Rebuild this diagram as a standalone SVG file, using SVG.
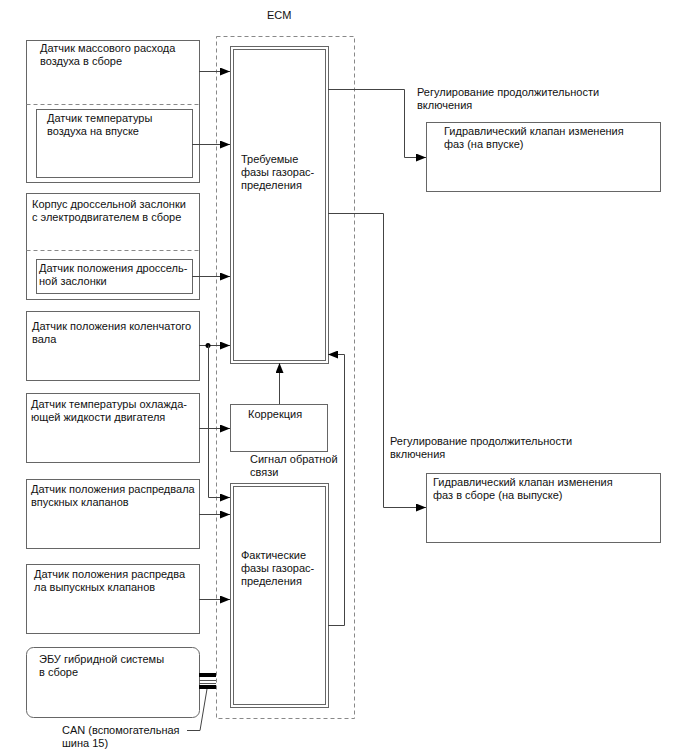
<svg xmlns="http://www.w3.org/2000/svg" width="688" height="755" viewBox="0 0 688 755">
<style>
.b{fill:#fff;stroke:#666;stroke-width:1}
.dsh{fill:none;stroke:#888;stroke-width:1;stroke-dasharray:4,3}
.l{fill:none;stroke:#444;stroke-width:1}
text{font-family:"Liberation Sans",Arial,sans-serif;font-size:11px;fill:#111}
</style>
<defs>
<marker id="ar" viewBox="0 0 10 8" refX="10" refY="4" markerWidth="10" markerHeight="8" markerUnits="userSpaceOnUse" orient="auto">
<path d="M0,0 L10,4 L0,8 Z" fill="#000"/>
</marker>
</defs>
<rect width="688" height="755" fill="#fff"/>

<g id="ecm">
<rect class="dsh" x="216.5" y="36.5" width="138" height="682"/>
<text x="267" y="19">ECM</text>
</g>

<g id="maf">
<rect class="b" x="26.5" y="40.5" width="173" height="142"/>
<line class="dsh" x1="26.5" y1="104.5" x2="199.5" y2="104.5"/>
<text x="40" y="52">Датчик массового расхода</text>
<text x="40" y="65">воздуха в сборе</text>
</g>
<g id="iat">
<rect class="b" x="36.5" y="109.5" width="156" height="68"/>
<text x="47" y="122">Датчик температуры</text>
<text x="47" y="135">воздуха на впуске</text>
</g>

<g id="throttle">
<rect class="b" x="26.5" y="193.5" width="173" height="106"/>
<line class="dsh" x1="26.5" y1="250.5" x2="199.5" y2="250.5"/>
<text x="32" y="208">Корпус дроссельной заслонки</text>
<text x="32" y="221">с электродвигателем в сборе</text>
</g>
<g id="tps">
<rect class="b" x="36.5" y="259.5" width="156" height="34"/>
<text x="39" y="272">Датчик положения дроссель-</text>
<text x="39" y="285">ной заслонки</text>
</g>

<g id="ckp">
<rect class="b" x="26.5" y="311.5" width="173" height="69"/>
<text x="32" y="330">Датчик положения коленчатого</text>
<text x="32" y="343">вала</text>
</g>

<g id="ect">
<rect class="b" x="26.5" y="393.5" width="173" height="69"/>
<text x="31" y="408">Датчик температуры охлажда-</text>
<text x="31" y="421">ющей жидкости двигателя</text>
</g>

<g id="camin">
<rect class="b" x="26.5" y="479.5" width="173" height="69"/>
<text x="31" y="493">Датчик положения распредвала</text>
<text x="31" y="506">впускных клапанов</text>
</g>

<g id="camex">
<rect class="b" x="26.5" y="564.5" width="173" height="69"/>
<text x="34" y="578">Датчик положения распредва</text>
<text x="34" y="591">ла выпускных клапанов</text>
</g>

<g id="hvecu">
<rect class="b" x="26.5" y="647.5" width="173" height="70" rx="7" ry="7"/>
<text x="39" y="663">ЭБУ гибридной системы</text>
<text x="39" y="676">в сборе</text>
</g>

<g id="target">
<rect class="b" x="230.5" y="46.5" width="98" height="317"/>
<rect class="b" x="233.5" y="49.5" width="92" height="311"/>
<text x="241" y="163">Требуемые</text>
<text x="241" y="176">фазы газорас-</text>
<text x="241" y="189">пределения</text>
</g>

<g id="correction">
<rect class="b" x="230.5" y="404.5" width="97" height="47"/>
<text x="248" y="418">Коррекция</text>
</g>

<g id="actual">
<rect class="b" x="230.5" y="483.5" width="98" height="224"/>
<rect class="b" x="233.5" y="486.5" width="92" height="218"/>
<text x="241" y="559">Фактические</text>
<text x="241" y="572">фазы газорас-</text>
<text x="241" y="585">пределения</text>
</g>

<g id="ocvin">
<rect class="b" x="426.5" y="122.5" width="234" height="69"/>
<text x="444" y="135">Гидравлический клапан изменения</text>
<text x="444" y="148">фаз (на впуске)</text>
</g>

<g id="ocvex">
<rect class="b" x="426.5" y="473.5" width="234" height="69"/>
<text x="433" y="486">Гидравлический клапан изменения</text>
<text x="433" y="499">фаз в сборе (на выпуске)</text>
</g>

<g id="connectors">
<line class="l" x1="199" y1="71.5" x2="230" y2="71.5" marker-end="url(#ar)"/>
<line class="l" x1="192" y1="144.5" x2="230" y2="144.5" marker-end="url(#ar)"/>
<line class="l" x1="192" y1="276.5" x2="230" y2="276.5" marker-end="url(#ar)"/>
<line class="l" x1="199" y1="345.5" x2="230" y2="345.5" marker-end="url(#ar)"/>
<circle cx="208" cy="345.5" r="2.5" fill="#000"/>
<polyline class="l" points="208.5,345.5 208.5,497.5 230,497.5" marker-end="url(#ar)"/>
<line class="l" x1="199" y1="428.5" x2="230" y2="428.5" marker-end="url(#ar)"/>
<line class="l" x1="199" y1="514.5" x2="230" y2="514.5" marker-end="url(#ar)"/>
<line class="l" x1="199" y1="599.5" x2="230" y2="599.5" marker-end="url(#ar)"/>
<line class="l" x1="279.5" y1="404" x2="279.5" y2="363" marker-end="url(#ar)"/>
<polyline class="l" points="328,625.5 344.5,625.5 344.5,354.5 328,354.5" marker-end="url(#ar)"/>
<polyline class="l" points="328,89.5 404.5,89.5 404.5,157.5 426,157.5" marker-end="url(#ar)"/>
<polyline class="l" points="328,213.5 383.5,213.5 383.5,507.5 426,507.5" marker-end="url(#ar)"/>
<text x="417" y="96">Регулирование продолжительности</text>
<text x="417" y="109">включения</text>
<text x="390" y="445">Регулирование продолжительности</text>
<text x="390" y="458">включения</text>
<text x="250" y="463">Сигнал обратной</text>
<text x="250" y="476">связи</text>
<g id="can">
<rect x="199" y="673" width="17" height="4" fill="#000"/>
<line x1="199" y1="680.5" x2="216" y2="680.5" stroke="#555"/>
<line x1="199" y1="683.5" x2="216" y2="683.5" stroke="#555"/>
<rect x="199" y="685" width="17" height="4" fill="#000"/>
<polyline class="l" points="207,689 200,730.5 187,730.5"/>
</g>
<text x="62" y="734">CAN (вспомогательная</text>
<text x="62" y="747">шина 15)</text>
</g>
</svg>
